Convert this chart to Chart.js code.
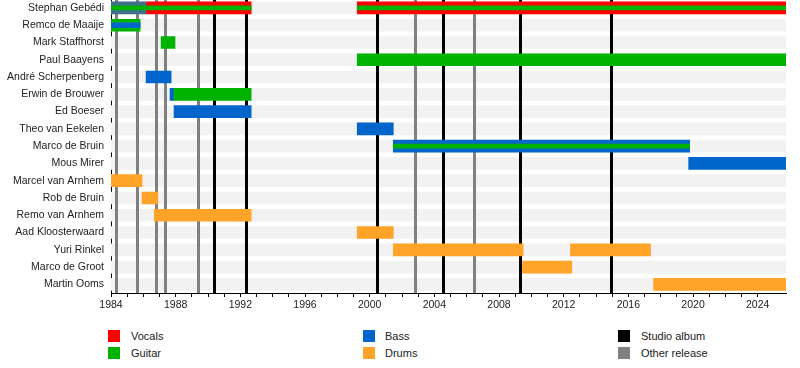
<!DOCTYPE html>
<html>
<head>
<meta charset="utf-8">
<script src="https://cdn.jsdelivr.net/npm/chart.js@4"></script>
<style>
  body { margin: 0; background: #fff; font-family: "Liberation Sans", Arial, sans-serif; }
  #wrap { position: relative; width: 800px; height: 368px; overflow: hidden; }
  #chart-timeline { position: absolute; left: 0; top: -14px; }
  .lg { position: absolute; font-size: 11px; color: #222; line-height: 13px; }
  .lg i { position: absolute; left: 0; top: 0; width: 12px; height: 12px; }
  .lg span { position: absolute; white-space: nowrap; top: 0; }
</style>
</head>
<body>
<div id="wrap">
  <canvas id="chart-timeline" width="800" height="334"></canvas>
  <div id="legend"></div>
</div>
<script>
// 期間の最初と最後
const START = 1984;
const END = 2025.75;

const members = [
  'Stephan Gebédi', 'Remco de Maaije', 'Mark Staffhorst', 'Paul Baayens',
  'André Scherpenberg', 'Erwin de Brouwer', 'Ed Boeser', 'Theo van Eekelen',
  'Marco de Bruin', 'Mous Mirer', 'Marcel van Arnhem', 'Rob de Bruin',
  'Remo van Arnhem', 'Aad Kloosterwaard', 'Yuri Rinkel', 'Marco de Groot',
  'Martin Ooms'
];

// [name, from, to]
const vocalSpans = [
  ['Stephan Gebédi', 1986.2, 1992.67],
  ['Stephan Gebédi', 1999.23, END]
];
const earlySpans = [
  ['Stephan Gebédi', 1984, 1986.2]
];
const guitarSpans = [
  ['Remco de Maaije', 1984, 1985.8],
  ['Mark Staffhorst', 1987.1, 1987.96],
  ['Paul Baayens', 1999.23, END],
  ['Erwin de Brouwer', 1987.9, 1992.67]
];
const bassSpans = [
  ['André Scherpenberg', 1986.17, 1987.72],
  ['Erwin de Brouwer', 1987.65, 1987.9],
  ['Ed Boeser', 1987.9, 1992.67],
  ['Theo van Eekelen', 1999.23, 2001.46],
  ['Marco de Bruin', 2001.46, 2019.79],
  ['Mous Mirer', 2019.73, END]
];
const drumSpans = [
  ['Marcel van Arnhem', 1984, 1985.92],
  ['Rob de Bruin', 1985.92, 1986.9],
  ['Remo van Arnhem', 1986.68, 1992.67],
  ['Aad Kloosterwaard', 1999.23, 2001.46],
  ['Yuri Rinkel', 2001.46, 2009.49],
  ['Yuri Rinkel', 2012.42, 2017.37],
  ['Marco de Groot', 2009.45, 2012.5],
  ['Martin Ooms', 2017.56, END]
];
// 内側の細いストライプ（兼任パート）
const innerGuitarSpans = [
  ['Stephan Gebédi', 1984, 1992.67],
  ['Stephan Gebédi', 1999.23, END],
  ['Marco de Bruin', 2001.46, 2019.79]
];
const innerBassSpans = [
  ['Remco de Maaije', 1984, 1985.8]
];

const studioAlbums = [1990.4, 1992.38, 2000.43, 2004.53, 2009.28, 2014.94];
const otherReleases = [1984.33, 1985.6, 1986.79, 1987.36, 1989.36, 2002.78, 2006.43];

const legendItems = [
  ['Vocals', '#ff0000'], ['Guitar', '#00b300'],
  ['Bass', '#0066cc'], ['Drums', '#ffa329'],
  ['Studio album', '#000000'], ['Other release', '#808080']
];

function toBars(spans) {
  return spans.map(s => ({ y: s[0], x: [s[1], s[2]] }));
}

function barSet(label, spans, color, thickness, order) {
  return {
    label: label,
    data: toBars(spans),
    backgroundColor: color,
    barThickness: thickness,
    grouped: false,
    borderWidth: 0,
    order: order
  };
}

// リリース線をストライプの上、バーの下に描く
const releaseLines = {
  id: 'releaseLines',
  afterDatasetDraw(chart, args) {
    if (args.index !== 0) return;
    const { ctx, chartArea, scales } = chart;
    const draw = (years, color) => {
      years.forEach(y => {
        const px = Math.round(scales.x.getPixelForValue(y)) + 0.5;
        ctx.save();
        ctx.strokeStyle = color;
        ctx.lineWidth = 3;
        ctx.beginPath();
        ctx.moveTo(px, chartArea.top);
        ctx.lineTo(px, chartArea.bottom);
        ctx.stroke();
        ctx.restore();
      });
    };
    draw(otherReleases, '#808080');
    draw(studioAlbums, '#000000');
  }
};

const data = {
  labels: members,
  datasets: [
    {
      label: 'bg',
      data: members.map(m => ({ y: m, x: [START, END] })),
      backgroundColor: '#f2f2f2',
      barThickness: 12,
      grouped: false,
      borderWidth: 0,
      order: 10
    },
    barSet('Vocals', vocalSpans, '#ff0000', 12, 5),
    barSet('Early', earlySpans, '#3f6f8f', 12, 5),
    barSet('Guitar', guitarSpans, '#00b300', 12, 5),
    barSet('Bass', bassSpans, '#0066cc', 12, 5),
    barSet('Drums', drumSpans, '#ffa329', 12, 5),
    barSet('Guitar (inner)', innerGuitarSpans, '#00b300', 4, 1),
    barSet('Bass (inner)', innerBassSpans, '#0066cc', 5, 1)
  ]
};

const options = {
  indexAxis: 'y',
  responsive: false,
  animation: false,
  devicePixelRatio: 1,
  layout: { padding: { left: 0, right: 14, top: 0, bottom: 0 } },
  scales: {
    x: {
      type: 'linear',
      min: START,
      max: END,
      afterBuildTicks: function (scale) {
        scale.ticks = scale.ticks.filter(t => Number.isInteger(t.value));
      },
      afterFit: function (scale) { scale.height = 27; },
      ticks: {
        stepSize: 1,
        autoSkip: false,
        maxRotation: 0,
        padding: 2,
        color: '#222',
        font: { family: 'Liberation Sans', size: 10.5 },
        callback: function (value) {
          return (value - START) % 4 === 0 ? String(value) : '';
        }
      },
      grid: { drawOnChartArea: false, color: '#000', tickLength: 4 },
      border: { display: true, color: '#000', width: 1 }
    },
    y: {
      type: 'category',
      afterFit: function (scale) { scale.width = 111; },
      ticks: {
        padding: 7,
        color: '#222',
        font: { family: 'Liberation Sans', size: 10.5 }
      },
      grid: { display: false, drawTicks: false },
      border: { display: true, color: '#000', width: 1 }
    }
  },
  plugins: {
    legend: { display: false },
    tooltip: { enabled: false }
  }
};

var ctx = document.getElementById('chart-timeline').getContext('2d');
var chart = new Chart(ctx, { type: 'bar', data: data, options: options, plugins: [releaseLines] });

// 凡例（3列×2行）
const legend = document.getElementById('legend');
legendItems.forEach(function (item, i) {
  const col = Math.floor(i / 2), row = i % 2;
  const el = document.createElement('div');
  el.className = 'lg';
  el.style.left = (108 + col * 255) + 'px';
  el.style.top = (330 + row * 17) + 'px';
  el.innerHTML = '<i style="background:' + item[1] + '"></i><span style="left:' + (col === 1 ? 22 : 23) + 'px">' + item[0] + '</span>';
  legend.appendChild(el);
});
</script>
</body>
</html>
